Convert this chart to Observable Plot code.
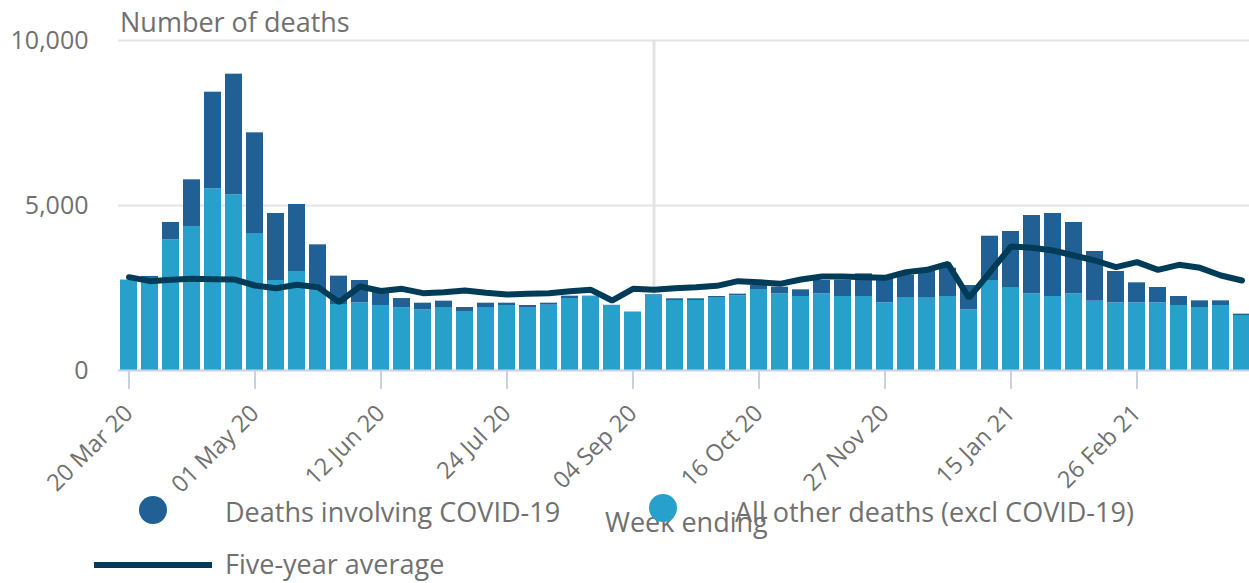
<!DOCTYPE html>
<html>
<head>
<meta charset="utf-8">
<script src="https://cdn.jsdelivr.net/npm/d3@7"></script>
<script src="https://cdn.jsdelivr.net/npm/@observablehq/plot@0.6"></script>
<style>
  body { margin: 0; background: #fff; font-family: "Open Sans", sans-serif; overflow: hidden; }
  #wrap { position: relative; width: 1249px; height: 583px; }
  .lbl { position: absolute; color: #707070; font-size: 27px; white-space: nowrap; line-height: 1; }
  .dot { position: absolute; width: 28px; height: 28px; border-radius: 50%; }
  .ln { position: absolute; height: 6px; background: #003c57; }
</style>
</head>
<body>
<div id="wrap"></div>
<script>
const weeks = ["20 Mar 20","27 Mar 20","03 Apr 20","10 Apr 20","17 Apr 20","24 Apr 20","01 May 20","08 May 20","15 May 20","22 May 20","29 May 20","05 Jun 20","12 Jun 20","19 Jun 20","26 Jun 20","03 Jul 20","10 Jul 20","17 Jul 20","24 Jul 20","31 Jul 20","07 Aug 20","14 Aug 20","21 Aug 20","28 Aug 20","04 Sep 20","11 Sep 20","18 Sep 20","25 Sep 20","02 Oct 20","09 Oct 20","16 Oct 20","23 Oct 20","30 Oct 20","06 Nov 20","13 Nov 20","20 Nov 20","27 Nov 20","04 Dec 20","11 Dec 20","18 Dec 20","25 Dec 20","01 Jan 21","15 Jan 21","22 Jan 21","29 Jan 21","05 Feb 21","12 Feb 21","19 Feb 21","26 Feb 21","05 Mar 21","12 Mar 21","19 Mar 21","26 Mar 21","02 Apr 21"];
const otherDeaths = [2727,2790,3960,4364,5505,5323,4151,2727,3000,2450,2000,2050,1970,1905,1838,1909,1788,1909,1970,1909,1980,2182,2240,1970,1768,2290,2121,2121,2192,2262,2454,2323,2242,2323,2242,2242,2050,2192,2192,2242,1838,2727,2515,2323,2242,2323,2101,2050,2050,2050,1970,1909,1970,1646];
const covidDeaths = [10,60,525,1414,2929,3657,3051,2031,2030,1358,859,677,410,275,202,192,121,131,70,61,60,70,12,5,5,13,51,51,50,51,122,202,202,404,498,687,740,697,808,858,738,1343,1697,2374,2516,2162,1505,950,607,465,272,202,141,61];
const fiveYearAvg = [2828,2707,2747,2778,2768,2758,2576,2495,2596,2525,2071,2545,2410,2475,2343,2374,2424,2354,2303,2323,2343,2404,2444,2121,2475,2444,2490,2525,2566,2707,2677,2626,2758,2848,2848,2828,2808,2980,3050,3232,2202,2980,3758,3717,3636,3485,3333,3131,3283,3050,3202,3111,2879,2727];
const seriesNames = ["Deaths involving COVID-19", "All other deaths (excl COVID-19)"];
const seriesColors = ["#206095", "#27a0cc"];
const avgName = "Five-year average";
const avgColor = "#003c57";
const yTicks = [0, 5000, 10000];
const xTickWeeks = weeks.filter((d, i) => i % 6 === 0);
const highlightWeek = weeks[25];

const stacked = [];
weeks.forEach((w, i) => {
  stacked.push({week: w, series: seriesNames[1], value: otherDeaths[i]});
  stacked.push({week: w, series: seriesNames[0], value: covidDeaths[i]});
});
const avgData = weeks.map((w, i) => ({week: w, value: fiveYearAvg[i]}));

const grey = "#707070";
const axisCol = "#c8d1e6";

const chart = Plot.plot({
  width: 1249,
  height: 583,
  marginLeft: 118,
  marginRight: 0,
  marginTop: 40,
  marginBottom: 213,
  style: {fontFamily: "Open Sans", fontSize: "23px", color: grey, background: "white"},
  x: {type: "band", domain: weeks, range: [118, 1252], paddingInner: 0.17, paddingOuter: 0.085},
  y: {domain: [0, 10000]},
  color: {domain: seriesNames, range: seriesColors},
  marks: [
    Plot.ruleY([5000, 10000], {stroke: "#e3e3e3", strokeWidth: 2}),
    Plot.ruleX([highlightWeek], {y1: 0, y2: 10000, stroke: "#e3e3e3", strokeWidth: 3}),
    Plot.barY(stacked, Plot.stackY({x: "week", y: "value", fill: "series", order: null})),
    Plot.lineY(avgData, {x: "week", y: "value", stroke: avgColor, strokeWidth: 6, strokeLinejoin: "miter"}),
    Plot.ruleY([0], {stroke: axisCol, strokeWidth: 2}),
    Plot.axisY({ticks: yTicks, tickFormat: d3.format(","), tickSize: 0, tickPadding: 30, fontSize: 25, fill: grey, label: null}),
    Plot.axisX({ticks: xTickWeeks, tickSize: 19, tickPadding: 20, tickRotate: -45, stroke: axisCol, strokeWidth: 2, fill: grey, fontSize: 23.5, label: null})
  ]
});

const wrap = document.getElementById("wrap");
wrap.appendChild(chart);
function add(html) { wrap.insertAdjacentHTML("beforeend", html); }
add(`<div class="lbl" style="left:120px;top:8px;">Number of deaths</div>`);
add(`<div class="dot" style="left:139px;top:496px;background:${seriesColors[0]}"></div>`);
add(`<div class="lbl" style="left:225px;top:498px;">${seriesNames[0]}</div>`);
add(`<div class="lbl" style="left:605px;top:508px;">Week ending</div>`);
add(`<div class="dot" style="left:649px;top:494px;background:${seriesColors[1]}"></div>`);
add(`<div class="lbl" style="left:735px;top:498px;">${seriesNames[1]}</div>`);
add(`<div class="ln" style="left:94px;top:562px;width:118px;"></div>`);
add(`<div class="lbl" style="left:225px;top:550px;">${avgName}</div>`);
</script>
</body>
</html>
